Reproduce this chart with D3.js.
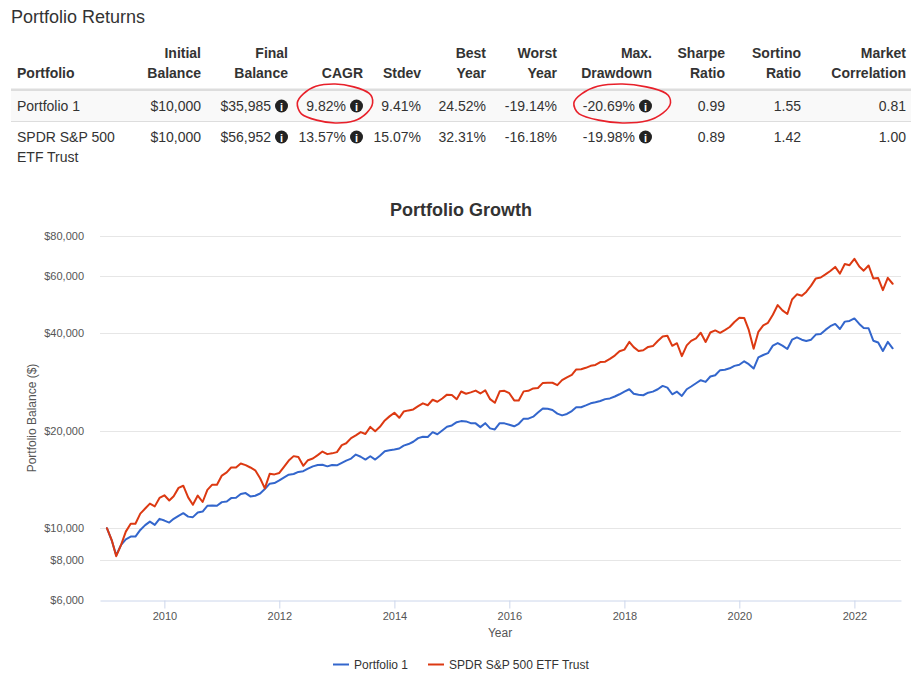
<!DOCTYPE html>
<html><head><meta charset="utf-8">
<script src="https://cdn.jsdelivr.net/npm/d3@7"></script>
<style>
body{margin:0;background:#fff;}
text{font-family:"Liberation Sans",Arial,Helvetica,sans-serif;}
</style>
</head><body>
<svg id="c" width="921" height="678"></svg>
<script>
// ---------------- DATA ----------------
const pageTitle = "Portfolio Returns";
const chartTitle = "Portfolio Growth";
const yAxisTitle = "Portfolio Balance ($)";
const xAxisTitle = "Year";

const tableHead1 = ["", "Initial", "Final", "", "", "Best", "Worst", "Max.", "Sharpe", "Sortino", "Market"];
const tableHead2 = ["Portfolio", "Balance", "Balance", "CAGR", "Stdev", "Year", "Year", "Drawdown", "Ratio", "Ratio", "Correlation"];
const tableRows = [
  [["Portfolio 1"], "$10,000", "$35,985", "9.82%", "9.41%", "24.52%", "-19.14%", "-20.69%", "0.99", "1.55", "0.81"],
  [["SPDR S&P 500", "ETF Trust"], "$10,000", "$56,952", "13.57%", "15.07%", "32.31%", "-16.18%", "-19.98%", "0.89", "1.42", "1.00"]
];
const infoColumns = [2, 3, 7];
const circledCells = [[0, 3], [0, 7]];

const seriesNames = ["Portfolio 1", "SPDR S&P 500 ETF Trust"];
const seriesColors = ["#3366cc", "#dc3912"];

// monthly balances, Jan 2009 .. Sep 2022 (start of month)
const portfolio1 = [
10000,9150,8250,8880,9240,9420,9420,9880,10220,10480,10240,10690,10560,
10410,10690,10920,11130,10860,10820,11180,11260,11730,11760,11730,12040,
12090,12390,12420,12750,12840,12540,12600,12800,13210,13730,13790,14050,
14360,14640,14710,14930,15000,15280,15530,15680,15700,15530,15680,15640,
15920,16180,16410,16890,16630,16300,16690,16300,16760,17290,17420,17500,
17630,18000,18200,18500,18990,19180,19130,19810,19520,20050,20580,20780,
21270,21430,21380,21120,21090,20530,21120,20350,20190,21120,21090,20890,
20650,21030,21810,21810,22120,22770,23440,23400,23190,22600,22320,22550,
23020,23660,23660,23970,24320,24500,24720,25060,25190,25530,25940,26430,
26880,26050,25860,25760,26240,26430,26880,27530,27200,25940,26430,25630,
26880,27410,28060,28670,28330,29430,29710,30800,30900,31200,31750,32000,
32800,32140,31150,33710,34300,34750,36660,37350,36660,35800,38250,38900,
38250,37900,38250,39660,39850,41010,42100,42800,41290,43500,43700,44500,
42800,41600,41500,37970,37500,35300,37650,35985
];
const spdr = [
10000,9179,8193,8877,9759,10330,10323,11093,11502,11911,11682,12402,12639,
12180,12560,13325,13531,12456,11812,12619,12051,13131,13633,13633,14545,
14884,15400,15402,15849,15671,15406,15098,14268,13278,14727,14667,14820,
15508,16181,16702,16590,15593,16226,16417,16828,17255,16941,17036,17188,
18068,18299,18994,19359,19816,19550,20561,19944,20574,21527,22164,22738,
21938,22936,23127,23288,23829,24320,23994,24942,24598,25178,25871,25806,
25042,26449,26034,26289,26628,26088,26678,25051,24415,26493,26591,26134,
24833,24813,26480,26583,27035,27130,28120,28154,28157,27670,28688,29270,
29794,30965,31005,31312,31754,31957,32612,32707,33381,34169,35214,35640,
37650,36279,35285,35469,36331,36545,37897,39106,39337,36619,37296,34018,
36743,37933,38620,40200,37635,40254,40862,40179,40963,41868,43384,44690,
44672,40995,35887,40445,42370,43120,45660,48943,47113,45940,50938,52828,
52289,53743,56183,59155,59545,60867,62352,64210,61218,65515,64991,68000,
64416,62516,64867,59172,59308,54415,59416,56952
];
const yTickValues = [6000, 8000, 10000, 20000, 40000, 60000, 80000];
const xTickYears = [2010, 2012, 2014, 2016, 2018, 2020, 2022];

// ---------------- DRAW ----------------
const svg = d3.select("#c");
const txt = "#333";

svg.append("text").attr("x", 11).attr("y", 23).attr("font-size", 18).attr("fill", txt).text(pageTitle);

// table
const colRight = [17, 201, 288, 363, 421, 486, 557, 652, 725, 801, 906];
const tbl = svg.append("g");
tbl.append("rect").attr("x", 11).attr("y", 91).attr("width", 900).attr("height", 30).attr("fill", "#f9f9f9");
tbl.append("rect").attr("x", 11).attr("y", 88.5).attr("width", 900).attr("height", 2.5).attr("fill", "#dddddd");
tbl.append("rect").attr("x", 11).attr("y", 121).attr("width", 900).attr("height", 1).attr("fill", "#dddddd");

tableHead1.forEach((h, i) => {
  const anchor = i === 0 ? "start" : "end";
  tbl.append("text").attr("x", colRight[i]).attr("y", 58).attr("text-anchor", anchor)
    .attr("font-size", 14).attr("font-weight", "bold").attr("fill", txt).text(h);
  tbl.append("text").attr("x", colRight[i]).attr("y", 78).attr("text-anchor", anchor)
    .attr("font-size", 14).attr("font-weight", "bold").attr("fill", txt).text(tableHead2[i]);
});

const rowBase = [111, 142];
const cellBoxes = {};
tableRows.forEach((row, r) => {
  row.forEach((v, c) => {
    if (c === 0) {
      v.forEach((line, li) => {
        tbl.append("text").attr("x", colRight[0]).attr("y", rowBase[r] + li * 20)
          .attr("font-size", 14).attr("fill", txt).text(line);
      });
      return;
    }
    const hasInfo = infoColumns.includes(c);
    const tx = hasInfo ? colRight[c] - 17 : colRight[c];
    const t = tbl.append("text").attr("x", tx).attr("y", rowBase[r]).attr("text-anchor", "end")
      .attr("font-size", 14).attr("fill", txt).text(v);
    const bb = t.node().getBBox();
    cellBoxes[r + "_" + c] = {x0: bb.x, x1: colRight[c], cy: rowBase[r] - 5};
    if (hasInfo) {
      const cx = colRight[c] - 6.5, cy = rowBase[r] - 5;
      tbl.append("circle").attr("cx", cx).attr("cy", cy).attr("r", 6.5).attr("fill", "#222");
      tbl.append("text").attr("x", cx).attr("y", cy + 4.5).attr("text-anchor", "middle")
        .attr("font-size", 11).attr("font-weight", "bold").attr("fill", "#fff").text("i");
    }
  });
});

// hand-drawn red circles
circledCells.forEach(([r, c], idx) => {
  const b = cellBoxes[r + "_" + c];
  const padL = 9, padR = idx === 0 ? 10 : 19;
  const x0 = b.x0 - padL, x1 = b.x1 + padR;
  const cx = (x0 + x1) / 2, cy = b.cy - 3, rx = (x1 - x0) / 2, ry = 19;
  const wob = [1.0, 0.97, 1.02, 1.0, 0.98, 1.03, 0.99, 0.96, 1.02, 1.0, 0.98, 1.03];
  const pts = wob.map((w, i) => {
    const a = -Math.PI + i * Math.PI * 2 / wob.length;
    return [cx + rx * w * Math.cos(a), cy + ry * w * Math.sin(a) + (Math.sin(a) > 0 ? 1 : 0)];
  });
  svg.append("path").attr("d", d3.line().curve(d3.curveCardinalClosed.tension(0.1))(pts))
    .attr("fill", "none").attr("stroke", "#e8202a").attr("stroke-width", 1.6);
});

// chart
const x = d3.scaleUtc().domain([new Date(Date.UTC(2008, 10, 18)), new Date(Date.UTC(2022, 9, 24))]).range([100, 901]);
const y = d3.scaleLog().domain([6000, 80000]).range([600, 236]);
const dates = d3.utcMonth.range(new Date(Date.UTC(2009, 0, 1)), new Date(Date.UTC(2022, 9, 1)));

svg.append("text").attr("x", 461).attr("y", 216).attr("text-anchor", "middle")
  .attr("font-size", 18).attr("font-weight", "bold").attr("fill", txt).text(chartTitle);

const grid = svg.append("g");
yTickValues.forEach(v => {
  if (v === 6000) return;
  grid.append("line").attr("x1", 100).attr("x2", 901).attr("y1", Math.round(y(v)) + 0.5).attr("y2", Math.round(y(v)) + 0.5)
    .attr("stroke", "#e6e6e6").attr("stroke-width", 1);
});
const yAxis = d3.axisLeft(y).tickValues(yTickValues).tickSize(0).tickPadding(0)
  .tickFormat(d => "$" + d3.format(",")(d));
const gy = svg.append("g").attr("transform", "translate(84,0)").call(yAxis);
gy.select(".domain").remove();
gy.selectAll("text").attr("font-size", 11).attr("fill", "#555").attr("font-family", "Liberation Sans, Arial, sans-serif");

const xAxis = d3.axisBottom(x).tickValues(xTickYears.map(yr => new Date(Date.UTC(yr, 0, 1))))
  .tickSize(8).tickPadding(4).tickFormat(d3.utcFormat("%Y")).tickSizeOuter(0);
const gx = svg.append("g").attr("transform", "translate(0,600.5)").call(xAxis);
gx.select(".domain").attr("stroke", "#ccd6eb");
gx.selectAll(".tick line").attr("stroke", "#ccd6eb");
gx.selectAll("text").attr("font-size", 11).attr("fill", "#555").attr("font-family", "Liberation Sans, Arial, sans-serif");

svg.append("text").attr("transform", "translate(36,418) rotate(-90)").attr("text-anchor", "middle")
  .attr("font-size", 12).attr("fill", "#555").text(yAxisTitle);
svg.append("text").attr("x", 500).attr("y", 637).attr("text-anchor", "middle")
  .attr("font-size", 12).attr("fill", "#555").text(xAxisTitle);

const line = d3.line().x((d, i) => x(dates[i])).y(d => y(d));
[portfolio1, spdr].forEach((s, i) => {
  svg.append("path").attr("d", line(s)).attr("fill", "none").attr("stroke", seriesColors[i])
    .attr("stroke-width", 2).attr("stroke-linejoin", "round").attr("stroke-linecap", "round");
});

// legend
const legX = [333, 428];
seriesNames.forEach((n, i) => {
  svg.append("line").attr("x1", legX[i]).attr("x2", legX[i] + 16).attr("y1", 664.5).attr("y2", 664.5)
    .attr("stroke", seriesColors[i]).attr("stroke-width", 2);
  svg.append("text").attr("x", legX[i] + 21).attr("y", 669).attr("font-size", 12).attr("fill", txt).text(n);
});
</script>
</body></html>
